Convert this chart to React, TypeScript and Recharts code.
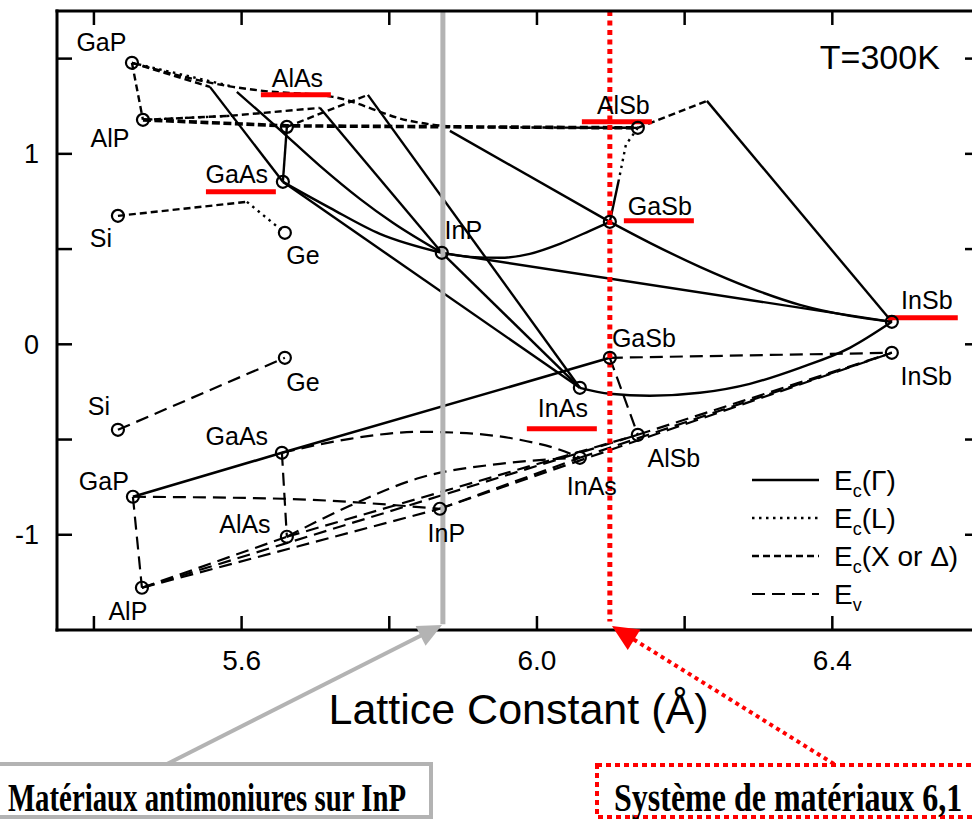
import React from 'react';
import { ComposedChart, Line, Scatter, XAxis, YAxis, Legend } from 'recharts';

type P = { x: number; y: number };
type Lab = { x: number; y: number; text: string };

// ---------- axes ----------
const X_DOMAIN: [number, number] = [5.35, 6.6];
const Y_DOMAIN: [number, number] = [-1.5, 1.75];
const xTicks = [5.4, 5.6, 5.8, 6.0, 6.2, 6.4];
const xTickLabels = [5.6, 6.0, 6.4];
const yTicks = [-1, -0.5, 0, 0.5, 1, 1.5];
const yTickLabels = [-1, 0, 1];
const xAxisTitle = 'Lattice Constant (Å)';
const temperatureNote: Lab[] = [{ x: 6.4643, y: 1.5066, text: 'T=300K' }];

// ---------- band edges of the binaries / elements (lattice constant Å, energy eV) ----------
const conductionEdges: P[] = [
  { x: 5.4515, y: 1.478 }, // GaP
  { x: 5.4664, y: 1.1785 }, // AlP
  { x: 5.6613, y: 1.1417 }, // AlAs
  { x: 5.6559, y: 0.853 }, // GaAs
  { x: 5.4325, y: 0.6745 }, // Si
  { x: 5.6586, y: 0.5853 }, // Ge
  { x: 5.8712, y: 0.4803 }, // InP
  { x: 6.0987, y: 0.643 }, // GaSb
  { x: 6.1366, y: 1.1365 }, // AlSb
  { x: 6.0581, y: -0.2283 }, // InAs
  { x: 6.4806, y: 0.1181 }, // InSb
];
const valenceEdges: P[] = [
  { x: 5.4325, y: -0.4488 }, // Si
  { x: 5.6586, y: -0.0709 }, // Ge
  { x: 5.6546, y: -0.5696 }, // GaAs
  { x: 5.4528, y: -0.8005 }, // GaP
  { x: 5.6613, y: -1.0105 }, // AlAs
  { x: 5.465, y: -1.2782 }, // AlP
  { x: 5.8685, y: -0.8635 }, // InP
  { x: 6.0987, y: -0.0709 }, // GaSb
  { x: 6.4806, y: -0.0446 }, // InSb
  { x: 6.1366, y: -0.4751 }, // AlSb
  { x: 6.0581, y: -0.5958 }, // InAs
];

// ---------- E_c(Gamma) curves ----------
const gammaGaPGaAs: P[] = [{ x: 5.5571, y: 1.3517 }, { x: 5.6559, y: 0.853 }];
const gammaGaPInP: P[] = [
  { x: 5.5936, y: 1.3255 }, { x: 5.6519, y: 1.126 }, { x: 5.706, y: 0.937 },
  { x: 5.7602, y: 0.7638 }, { x: 5.8049, y: 0.6378 }, { x: 5.8712, y: 0.4803 },
];
const gammaAlPInP: P[] = [{ x: 5.706, y: 1.2415 }, { x: 5.8712, y: 0.4803 }];
const gammaAlAsGaAs: P[] = [{ x: 5.6613, y: 1.1417 }, { x: 5.6559, y: 0.853 }];
const gammaAlAsInAs: P[] = [{ x: 5.771, y: 1.3097 }, { x: 6.0581, y: -0.2283 }];
const gammaGaAsInP: P[] = [
  { x: 5.6559, y: 0.853 }, { x: 5.7196, y: 0.7165 }, { x: 5.7873, y: 0.5801 }, { x: 5.8712, y: 0.4803 },
];
const gammaGaAsInAs: P[] = [{ x: 5.6559, y: 0.853 }, { x: 6.0581, y: -0.2283 }];
const gammaInPInAs: P[] = [{ x: 5.8712, y: 0.4803 }, { x: 6.0581, y: -0.2283 }];
const gammaInPGaSb: P[] = [
  { x: 5.8712, y: 0.4803 }, { x: 5.9091, y: 0.4593 }, { x: 5.9498, y: 0.4541 }, { x: 5.9904, y: 0.4751 },
  { x: 6.031, y: 0.5276 }, { x: 6.0716, y: 0.5958 }, { x: 6.0987, y: 0.643 },
];
const gammaInPInSb: P[] = [{ x: 5.8712, y: 0.4803 }, { x: 6.4806, y: 0.1181 }];
const gammaAlAsGaSb: P[] = [{ x: 5.8821, y: 1.1207 }, { x: 6.0987, y: 0.643 }];
const gammaAlSbGaSb: P[] = [{ x: 6.1109, y: 0.8635 }, { x: 6.0987, y: 0.643 }];
const gammaGaSbInSb: P[] = [
  { x: 6.0987, y: 0.643 }, { x: 6.1529, y: 0.5328 }, { x: 6.2206, y: 0.4068 }, { x: 6.2883, y: 0.2966 },
  { x: 6.356, y: 0.2073 }, { x: 6.4237, y: 0.1496 }, { x: 6.4806, y: 0.1181 },
];
const gammaInAsInSb: P[] = [
  { x: 6.0581, y: -0.2283 }, { x: 6.0987, y: -0.2598 }, { x: 6.1529, y: -0.2703 }, { x: 6.2206, y: -0.2546 },
  { x: 6.2883, y: -0.2073 }, { x: 6.356, y: -0.1234 }, { x: 6.4237, y: -0.0184 }, { x: 6.4806, y: 0.1181 },
];
const gammaAlSbInSb: P[] = [{ x: 6.2301, y: 1.2782 }, { x: 6.4806, y: 0.1181 }];
const valenceGaPGaAsGaSb: P[] = [{ x: 5.4528, y: -0.8005 }, { x: 5.6546, y: -0.5696 }, { x: 6.0987, y: -0.0709 }];

// ---------- E_c(X or Delta) ----------
const xGaPAlP: P[] = [{ x: 5.4515, y: 1.478 }, { x: 5.4664, y: 1.1785 }];
const xGaPGaAs: P[] = [{ x: 5.4515, y: 1.478 }, { x: 5.5571, y: 1.3517 }];
const xGaPAlSb: P[] = [
  { x: 5.4515, y: 1.478 }, { x: 5.5882, y: 1.3517 }, { x: 5.6288, y: 1.3307 }, { x: 5.7236, y: 1.2992 },
  { x: 5.8279, y: 1.1732 }, { x: 5.8956, y: 1.1417 }, { x: 6.1366, y: 1.1365 },
];
const xAlPAlSb: P[] = [{ x: 5.4664, y: 1.1785 }, { x: 5.6613, y: 1.147 }, { x: 6.1366, y: 1.1365 }];
const xAlPInP: P[] = [{ x: 5.4664, y: 1.1785 }, { x: 5.5842, y: 1.1995 }, { x: 5.706, y: 1.2415 }];
const xAlAsInAs: P[] = [{ x: 5.6613, y: 1.1417 }, { x: 5.771, y: 1.3097 }];
const xAlSbInSb: P[] = [{ x: 6.1366, y: 1.1365 }, { x: 6.2301, y: 1.2782 }];
const xSiGe: P[] = [{ x: 5.4325, y: 0.6745 }, { x: 5.6072, y: 0.748 }];

// ---------- E_c(L) ----------
const lGaPInP: P[] = [{ x: 5.4515, y: 1.478 }, { x: 5.5896, y: 1.3517 }];
const lSiGe: P[] = [{ x: 5.6072, y: 0.748 }, { x: 5.6586, y: 0.5853 }];
const lAlSbGaSb: P[] = [{ x: 6.1366, y: 1.1365 }, { x: 6.1204, y: 1.0472 }, { x: 6.1109, y: 0.8635 }];
const lAlPInP: P[] = [{ x: 5.4664, y: 1.1785 }, { x: 5.5842, y: 1.1995 }];

// ---------- E_v ----------
const evSiGe: P[] = [{ x: 5.4325, y: -0.4488 }, { x: 5.6586, y: -0.0709 }];
const evGaPAlP: P[] = [{ x: 5.4528, y: -0.8005 }, { x: 5.465, y: -1.2782 }];
const evGaAsAlAs: P[] = [{ x: 5.6546, y: -0.5696 }, { x: 5.6613, y: -1.0105 }];
const evGaPInP: P[] = [{ x: 5.4528, y: -0.8005 }, { x: 5.6559, y: -0.811 }, { x: 5.8685, y: -0.8635 }];
const evGaAsInAs: P[] = [
  { x: 5.6546, y: -0.5696 }, { x: 5.7466, y: -0.4961 }, { x: 5.8414, y: -0.4593 }, { x: 5.8956, y: -0.4646 },
  { x: 5.9768, y: -0.5013 }, { x: 6.031, y: -0.5538 }, { x: 6.0581, y: -0.5958 },
];
const evAlAsInAs: P[] = [
  { x: 5.6613, y: -1.0105 }, { x: 5.7466, y: -0.8478 }, { x: 5.8414, y: -0.7008 }, { x: 5.9498, y: -0.6273 },
  { x: 6.0581, y: -0.5958 },
];
const evAlPAlAs: P[] = [{ x: 5.465, y: -1.2782 }, { x: 5.6613, y: -1.0105 }];
const evAlPAlSb: P[] = [{ x: 5.465, y: -1.2782 }, { x: 6.1366, y: -0.4751 }];
const evAlPInP: P[] = [{ x: 5.465, y: -1.2782 }, { x: 5.8685, y: -0.8635 }];
const evAlAsAlSb: P[] = [{ x: 5.6613, y: -1.0105 }, { x: 6.1366, y: -0.4751 }];
const evInPInAs: P[] = [{ x: 5.8685, y: -0.8635 }, { x: 6.0581, y: -0.5958 }];
const evInPInSb: P[] = [{ x: 5.8685, y: -0.8635 }, { x: 6.4806, y: -0.0446 }];
const evInAsInSb: P[] = [{ x: 6.0581, y: -0.5958 }, { x: 6.4806, y: -0.0446 }];
const evAlSbInSb: P[] = [{ x: 6.1366, y: -0.4751 }, { x: 6.4806, y: -0.0446 }];
const evGaSbInSb: P[] = [{ x: 6.0987, y: -0.0709 }, { x: 6.4806, y: -0.0446 }];
const evGaSbAlSb: P[] = [{ x: 6.0987, y: -0.0709 }, { x: 6.1366, y: -0.4751 }];

// ---------- labels ----------
const materialLabels: Lab[] = [
  { x: 5.4102, y: 1.5879, text: 'GaP' },
  { x: 5.4217, y: 1.084, text: 'AlP' },
  { x: 5.6756, y: 1.3963, text: 'AlAs' },
  { x: 5.5936, y: 0.895, text: 'GaAs' },
  { x: 5.4095, y: 0.5564, text: 'Si' },
  { x: 5.683, y: 0.4698, text: 'Ge' },
  { x: 5.9003, y: 0.601, text: 'InP' },
  { x: 6.117, y: 1.2572, text: 'AlSb' },
  { x: 6.1664, y: 0.727, text: 'GaSb' },
  { x: 6.528, y: 0.2336, text: 'InSb' },
  { x: 6.1448, y: 0.0341, text: 'GaSb' },
  { x: 6.5273, y: -0.1654, text: 'InSb' },
  { x: 5.683, y: -0.1969, text: 'Ge' },
  { x: 5.4068, y: -0.3228, text: 'Si' },
  { x: 6.0351, y: -0.3333, text: 'InAs' },
  { x: 5.5936, y: -0.4803, text: 'GaAs' },
  { x: 6.1854, y: -0.5958, text: 'AlSb' },
  { x: 5.4135, y: -0.7165, text: 'GaP' },
  { x: 6.0743, y: -0.7428, text: 'InAs' },
  { x: 5.6045, y: -0.9423, text: 'AlAs' },
  { x: 5.8773, y: -0.9895, text: 'InP' },
  { x: 5.446, y: -1.399, text: 'AlP' },
];

// red underlines highlighting materials
const underlineAlAs: P[] = [{ x: 5.6261, y: 1.3097 }, { x: 5.7209, y: 1.3097 }];
const underlineGaAs: P[] = [{ x: 5.5517, y: 0.8005 }, { x: 5.6464, y: 0.8005 }];
const underlineAlSb: P[] = [{ x: 6.0608, y: 1.168 }, { x: 6.1556, y: 1.168 }];
const underlineGaSb: P[] = [{ x: 6.1177, y: 0.6483 }, { x: 6.2125, y: 0.6483 }];
const underlineInSb: P[] = [{ x: 6.4752, y: 0.1391 }, { x: 6.5699, y: 0.1391 }];
const underlineInAs: P[] = [{ x: 5.9863, y: -0.4436 }, { x: 6.0811, y: -0.4436 }];

// highlighted lattice constants (InP substrate, 6.1 Å family)
const inpLattice: P[] = [{ x: 5.8726, y: 1.75 }, { x: 5.8726, y: -1.47 }];
const sixOneLattice: P[] = [{ x: 6.0987, y: 1.75 }, { x: 6.0987, y: -1.455 }];

const legendEntries = [
  { sub: 'c', tail: '(Γ)', kind: 'G' },
  { sub: 'c', tail: '(L)', kind: 'L' },
  { sub: 'c', tail: '(X or Δ)', kind: 'X' },
  { sub: 'v', tail: '', kind: 'V' },
];
const boxInP = 'Matériaux antimoniures sur InP';
const box61 = 'Système de matériaux 6,1';

// ---------- styles ----------
const FONT = "'Liberation Sans', Arial, Helvetica, sans-serif";
const STY: Record<string, { w: number; dash?: string }> = {
  G: { w: 2.4 },
  X: { w: 2.4, dash: '7 4' },
  XT: { w: 3.6, dash: '8 3.5' },
  L: { w: 2.4, dash: '2.5 4.5' },
  V: { w: 2.2, dash: '13 7' },
  VS: { w: 2.6 },
};

type S = { data: P[]; kind: string; curve: 'linear' | 'monotone' };
const blackSeries: S[] = [
  { data: gammaGaPGaAs, kind: 'G', curve: 'linear' },
  { data: gammaGaPInP, kind: 'G', curve: 'monotone' },
  { data: gammaAlPInP, kind: 'G', curve: 'linear' },
  { data: gammaAlAsGaAs, kind: 'G', curve: 'linear' },
  { data: gammaAlAsInAs, kind: 'G', curve: 'linear' },
  { data: gammaGaAsInP, kind: 'G', curve: 'monotone' },
  { data: gammaGaAsInAs, kind: 'G', curve: 'linear' },
  { data: gammaInPInAs, kind: 'G', curve: 'linear' },
  { data: gammaInPGaSb, kind: 'G', curve: 'monotone' },
  { data: gammaInPInSb, kind: 'G', curve: 'linear' },
  { data: gammaAlAsGaSb, kind: 'G', curve: 'linear' },
  { data: gammaAlSbGaSb, kind: 'G', curve: 'linear' },
  { data: gammaGaSbInSb, kind: 'G', curve: 'monotone' },
  { data: gammaInAsInSb, kind: 'G', curve: 'monotone' },
  { data: gammaAlSbInSb, kind: 'G', curve: 'linear' },
  { data: valenceGaPGaAsGaSb, kind: 'VS', curve: 'linear' },
  { data: xGaPAlP, kind: 'X', curve: 'linear' },
  { data: xGaPGaAs, kind: 'X', curve: 'linear' },
  { data: xGaPAlSb, kind: 'X', curve: 'monotone' },
  { data: xAlPAlSb, kind: 'XT', curve: 'linear' },
  { data: xAlPInP, kind: 'X', curve: 'linear' },
  { data: xAlAsInAs, kind: 'X', curve: 'linear' },
  { data: xAlSbInSb, kind: 'X', curve: 'linear' },
  { data: xSiGe, kind: 'X', curve: 'linear' },
  { data: lGaPInP, kind: 'L', curve: 'linear' },
  { data: lSiGe, kind: 'L', curve: 'linear' },
  { data: lAlSbGaSb, kind: 'L', curve: 'linear' },
  { data: lAlPInP, kind: 'L', curve: 'linear' },
  { data: evSiGe, kind: 'V', curve: 'linear' },
  { data: evGaPAlP, kind: 'V', curve: 'linear' },
  { data: evGaAsAlAs, kind: 'V', curve: 'linear' },
  { data: evGaPInP, kind: 'V', curve: 'monotone' },
  { data: evGaAsInAs, kind: 'V', curve: 'monotone' },
  { data: evAlAsInAs, kind: 'V', curve: 'monotone' },
  { data: evAlPAlAs, kind: 'V', curve: 'linear' },
  { data: evAlPAlSb, kind: 'V', curve: 'linear' },
  { data: evAlPInP, kind: 'V', curve: 'linear' },
  { data: evAlAsAlSb, kind: 'V', curve: 'linear' },
  { data: evInPInAs, kind: 'V', curve: 'linear' },
  { data: evInPInSb, kind: 'V', curve: 'linear' },
  { data: evInAsInSb, kind: 'V', curve: 'linear' },
  { data: evAlSbInSb, kind: 'V', curve: 'linear' },
  { data: evGaSbInSb, kind: 'V', curve: 'linear' },
  { data: evGaSbAlSb, kind: 'V', curve: 'linear' },
];
const underlines = [underlineAlAs, underlineGaAs, underlineAlSb, underlineGaSb, underlineInSb, underlineInAs];

const near = (a: number, b: number) => Math.abs(a - b) < 1e-6;

const BottomTick = (p: any) => {
  const v = p.payload.value;
  const lab = xTickLabels.find((t) => near(t, v));
  return (
    <g>
      <line x1={p.x} y1={p.y} x2={p.x} y2={p.y - 14} stroke="#000" strokeWidth={2.5} />
      {lab !== undefined && (
        <text x={p.x} y={p.y + 40} textAnchor="middle" fontSize={28} fontFamily={FONT} fill="#000">
          {lab.toFixed(1)}
        </text>
      )}
    </g>
  );
};
const TopTick = (p: any) => <line x1={p.x} y1={p.y} x2={p.x} y2={p.y + 14} stroke="#000" strokeWidth={2.5} />;
const LeftTick = (p: any) => {
  const v = p.payload.value;
  const lab = yTickLabels.find((t) => near(t, v));
  return (
    <g>
      <line x1={p.x} y1={p.y} x2={p.x + 15} y2={p.y} stroke="#000" strokeWidth={2.5} />
      {lab !== undefined && (
        <text x={p.x - 18} y={p.y + 9.5} textAnchor="end" fontSize={27} fontFamily={FONT} fill="#000">
          {String(lab)}
        </text>
      )}
    </g>
  );
};
const RightTick = (p: any) => <line x1={p.x} y1={p.y} x2={p.x - 15} y2={p.y} stroke="#000" strokeWidth={2.5} />;

const Ring = (p: any) => <circle cx={p.cx} cy={p.cy} r={6} fill="none" stroke="#000" strokeWidth={2.2} />;
const MatLabel = (p: any) => (
  <text x={p.cx} y={p.cy + 9} textAnchor="middle" fontSize={25} fontFamily={FONT} fill="#000">
    {p.payload.text}
  </text>
);
const BigLabel = (p: any) => (
  <text x={p.cx} y={p.cy + 12} textAnchor="middle" fontSize={34} fontFamily={FONT} fill="#000">
    {p.payload.text}
  </text>
);

const LegendContent = () => (
  <svg width={225} height={152} style={{ display: 'block', overflow: 'visible' }}>
    {legendEntries.map((e, i) => {
      const cy = 19 + i * 38;
      const st = STY[e.kind];
      return (
        <g key={i}>
          <line x1={2} y1={cy} x2={69} y2={cy} stroke="#000" strokeWidth={st.w} strokeDasharray={st.dash} />
          <text x={84} y={cy + 10} fontSize={28} fontFamily={FONT} fill="#000">
            E
            <tspan fontSize={18} dy={7}>{e.sub}</tspan>
            <tspan dy={-7}>{e.tail}</tspan>
          </text>
        </g>
      );
    })}
  </svg>
);

const arrowHead = (tail: [number, number], tip: [number, number], len: number, half: number) => {
  const dx = tip[0] - tail[0];
  const dy = tip[1] - tail[1];
  const d = Math.hypot(dx, dy);
  const ux = dx / d;
  const uy = dy / d;
  const bx = tip[0] - ux * len;
  const by = tip[1] - uy * len;
  return `${tip[0]},${tip[1]} ${bx - uy * half},${by + ux * half} ${bx + uy * half},${by - ux * half}`;
};

const Overlay = () => {
  const gTail: [number, number] = [167, 764];
  const gTip: [number, number] = [442, 625];
  const rTail: [number, number] = [834, 764];
  const rTip: [number, number] = [612, 626];
  return (
    <svg width={972} height={819} style={{ position: 'absolute', left: 0, top: 0, pointerEvents: 'none' }}>
      <line x1={gTail[0]} y1={gTail[1]} x2={430} y2={631} stroke="#b3b3b3" strokeWidth={4} />
      <polygon points={arrowHead(gTail, gTip, 24, 11)} fill="#b3b3b3" />
      <rect x={-10} y={764} width={441} height={53} fill="#fff" stroke="#b3b3b3" strokeWidth={4} />
      <text
        transform="translate(406,811) scale(0.72,1)"
        textAnchor="end"
        fontSize={40}
        fontWeight="bold"
        fontFamily="'Liberation Serif', 'Times New Roman', serif"
        fill="#000"
      >
        {boxInP}
      </text>
      <line x1={rTail[0]} y1={rTail[1]} x2={625} y2={634} stroke="#ff0000" strokeWidth={4} strokeDasharray="4 4" />
      <polygon points={arrowHead(rTail, rTip, 26, 12)} fill="#ff0000" />
      <rect x={597} y={765} width={400} height={52} fill="#fff" stroke="#ff0000" strokeWidth={4} strokeDasharray="5 4" />
      <text
        transform="translate(614,811) scale(0.8,1)"
        textAnchor="start"
        fontSize={40}
        fontWeight="bold"
        fontFamily="'Liberation Serif', 'Times New Roman', serif"
        fill="#000"
      >
        {box61}
      </text>
    </svg>
  );
};

export default function App() {
  return (
    <div
      style={{
        position: 'fixed',
        left: 0,
        top: 0,
        width: 972,
        height: 819,
        overflow: 'hidden',
        background: '#fff',
        fontFamily: FONT,
      }}
    >
      <ComposedChart width={990} height={819} margin={{ top: 0, right: 0, bottom: 0, left: 0 }}>
        <XAxis
          xAxisId="b"
          orientation="bottom"
          dataKey="x"
          type="number"
          domain={X_DOMAIN}
          ticks={xTicks}
          interval={0}
          allowDataOverflow
          height={189}
          tickLine={false}
          tickSize={0}
          tickMargin={0}
          tick={BottomTick}
          axisLine={{ stroke: '#000', strokeWidth: 3, strokeLinecap: 'square' }}
          label={{
            value: xAxisTitle,
            position: 'insideTop',
            offset: 63,
            fontSize: 43,
            fontFamily: FONT,
            fill: '#000',
          }}
        />
        <XAxis
          xAxisId="t"
          orientation="top"
          dataKey="x"
          type="number"
          domain={X_DOMAIN}
          ticks={xTicks}
          interval={0}
          allowDataOverflow
          height={11}
          tickLine={false}
          tickSize={0}
          tickMargin={0}
          tick={TopTick}
          axisLine={{ stroke: '#000', strokeWidth: 3, strokeLinecap: 'square' }}
        />
        <YAxis
          yAxisId="l"
          orientation="left"
          dataKey="y"
          type="number"
          domain={Y_DOMAIN}
          ticks={yTicks}
          interval={0}
          allowDataOverflow
          width={57}
          tickLine={false}
          tickSize={0}
          tickMargin={0}
          tick={LeftTick}
          axisLine={{ stroke: '#000', strokeWidth: 3, strokeLinecap: 'square' }}
        />
        <YAxis
          yAxisId="r"
          orientation="right"
          dataKey="y"
          type="number"
          domain={Y_DOMAIN}
          ticks={yTicks}
          interval={0}
          allowDataOverflow
          width={10}
          tickLine={false}
          tickSize={0}
          tickMargin={0}
          tick={RightTick}
          axisLine={{ stroke: '#000', strokeWidth: 3, strokeLinecap: 'square' }}
        />

        {blackSeries.map((s, i) => (
          <Line
            key={'s' + i}
            xAxisId="b"
            yAxisId="l"
            data={s.data}
            dataKey="y"
            type={s.curve}
            stroke="#000"
            strokeWidth={STY[s.kind].w}
            strokeDasharray={STY[s.kind].dash}
            dot={false}
            activeDot={false}
            legendType="none"
            isAnimationActive={false}
          />
        ))}

        <Scatter xAxisId="b" yAxisId="l" data={conductionEdges} dataKey="y" shape={Ring} isAnimationActive={false} legendType="none" />
        <Scatter xAxisId="b" yAxisId="l" data={valenceEdges} dataKey="y" shape={Ring} isAnimationActive={false} legendType="none" />
        <Scatter xAxisId="b" yAxisId="l" data={materialLabels} dataKey="y" shape={MatLabel} isAnimationActive={false} legendType="none" />
        <Scatter xAxisId="b" yAxisId="l" data={temperatureNote} dataKey="y" shape={BigLabel} isAnimationActive={false} legendType="none" />

        {underlines.map((u, i) => (
          <Line
            key={'u' + i}
            xAxisId="b"
            yAxisId="l"
            data={u}
            dataKey="y"
            type="linear"
            stroke="#ff0000"
            strokeWidth={5}
            dot={false}
            activeDot={false}
            legendType="none"
            isAnimationActive={false}
          />
        ))}
        <Line
          xAxisId="b"
          yAxisId="l"
          data={inpLattice}
          dataKey="y"
          type="linear"
          stroke="#b3b3b3"
          strokeWidth={5}
          dot={false}
          activeDot={false}
          legendType="none"
          isAnimationActive={false}
        />
        <Line
          xAxisId="b"
          yAxisId="l"
          data={sixOneLattice}
          dataKey="y"
          type="linear"
          stroke="#ff0000"
          strokeWidth={5}
          strokeDasharray="5 4.5"
          dot={false}
          activeDot={false}
          legendType="none"
          isAnimationActive={false}
        />
        <Legend
          layout="vertical"
          align="center"
          verticalAlign="middle"
          wrapperStyle={{ left: 750, top: 461, width: 225, height: 152 }}
          content={LegendContent}
        />
      </ComposedChart>
      <Overlay />
    </div>
  );
}
